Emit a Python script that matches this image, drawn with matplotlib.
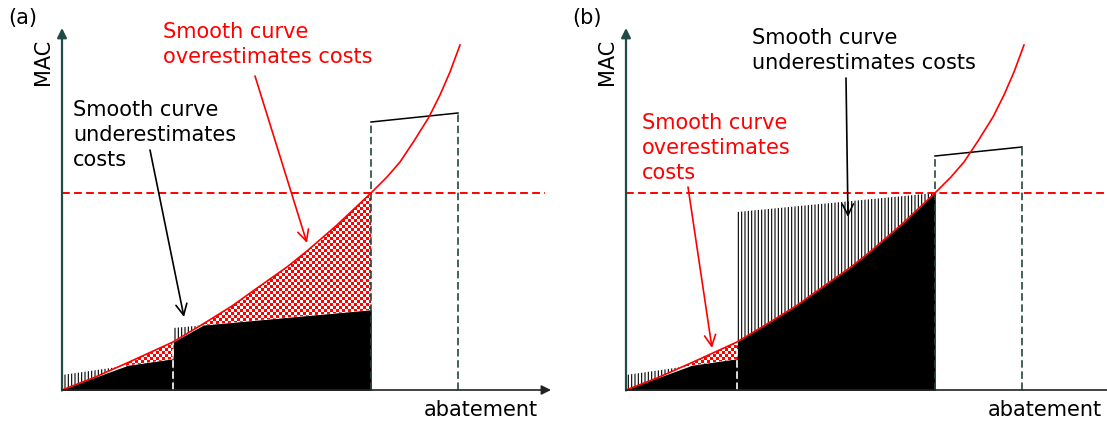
import numpy as np
import matplotlib.pyplot as plt
from matplotlib.colors import ListedColormap
from matplotlib.path import Path

plt.rcParams['font.family'] = ['DejaVu Sans']
plt.rcParams['hatch.linewidth'] = 0.8

# smooth MAC curve (abatement, cost)
curve_x = [0, 31, 65, 111, 141, 170, 198, 225, 245, 275, 309, 325, 338, 352, 367, 378, 388, 398]
curve_y = [0, 12, 27, 48, 66, 84, 104, 123, 139, 165, 197, 213, 228, 249, 273, 295, 318, 345]

# block edges of the step MAC curve
edges = [0, 111, 309, 396]
# block tops (left, right) for panel a and panel b
tops_a = [(15, 31), (62, 80), (268, 277)]
tops_b = [(15, 31), (178, 197), (234, 243)]
price = 197

axis_col = '#1f4a46'
dash_col = '#254542'
red = '#ff0000'

fig = plt.figure(figsize=(11.07, 4.25), dpi=100)

cx = np.array(curve_x, dtype=float)
cy = np.array(curve_y, dtype=float)


def checker(ax, ext):
    w = int(ext[1] - ext[0])
    h = int(ext[3] - ext[2])
    ii, jj = np.indices((h, w))
    img = ((ii // 3 + jj // 3) % 2).astype(float)
    im = ax.imshow(img, extent=ext, cmap=ListedColormap(['white', red]),
                   interpolation='nearest', aspect='auto', zorder=1)
    return im


def panel(ax, tops, label, xext, x_arrow, price_end):
    ext = (xext[0], xext[1], -35, 390)
    red_paths = []
    for k in range(2):
        e0, e1 = edges[k], edges[k + 1]
        m = (cx >= e0) & (cx <= e1)
        xs = cx[m]
        cv = cy[m]
        bt = np.interp(xs, [e0, e1], tops[k])
        ax.fill_between(xs, 0, np.minimum(cv, bt), color='black', lw=0, zorder=2)
        ax.fill_between(xs, 0, cv, where=cv <= bt, interpolate=True, color='black', lw=0, zorder=2)
        ax.fill_between(xs, 0, bt, where=bt <= cv, interpolate=True, color='black', lw=0, zorder=2)
        ax.fill_between(xs, cv, bt, where=bt >= cv, interpolate=True, facecolor='white',
                        edgecolor='black', hatch='|||||', lw=0, zorder=2)
        pc = ax.fill_between(xs, bt, cv, where=cv >= bt, interpolate=True,
                             facecolor='none', lw=0, zorder=2)
        red_paths += list(pc.get_paths())
    im = checker(ax, ext)
    if red_paths:
        im.set_clip_path(Path.make_compound_path(*red_paths), ax.transData)

    # third block: outline only
    ax.plot([edges[2], edges[3]], tops[2], color='black', lw=1.1, zorder=4)
    ax.plot([edges[2], edges[2]], [0, tops[2][0]], color=dash_col, lw=1.2,
            dashes=(4.5, 2.2), zorder=4)
    ax.plot([edges[3], edges[3]], [0, tops[2][1]], color=dash_col, lw=1.2,
            dashes=(4.5, 2.2), zorder=4)
    ax.plot([edges[1], edges[1]], [0, np.interp(edges[1], cx, cy)], color='white', lw=1.2,
            dashes=(4.5, 2.2), zorder=4)

    # smooth curve and price line
    ax.plot(cx, cy, color=red, lw=1.2, zorder=5)
    ax.plot([0, price_end], [price, price], color=red, lw=1.4, dashes=(4, 2.2), zorder=3)

    # axes
    ax.annotate('', xy=(0, 362), xytext=(0, -0.5),
                arrowprops=dict(arrowstyle='-|>', color=axis_col, lw=1.6,
                                mutation_scale=14, shrinkA=0, shrinkB=0), zorder=6)
    if x_arrow:
        ax.annotate('', xy=(489, 0), xytext=(0, 0),
                    arrowprops=dict(arrowstyle='-|>', color='#222222', lw=1.2,
                                    mutation_scale=14, shrinkA=0, shrinkB=0), zorder=6)
    else:
        ax.plot([0, xext[1]], [0, 0], color='#222222', lw=1.2, zorder=6)

    ax.text(-19, 328, 'MAC', rotation=90, ha='center', va='center', fontsize=15)
    ax.text(419, -26, 'abatement', ha='center', va='baseline', fontsize=15)
    ax.text(-54, 382, label, ha='left', va='top', fontsize=15)

    ax.set_xlim(*xext)
    ax.set_ylim(-35, 390)
    ax.axis('off')


ax_a = fig.add_axes([0, 0, 560 / 1107, 1])
panel(ax_a, tops_a, '(a)', (-62, 498), True, 483)
ax_a.text(101, 368, 'Smooth curve\noverestimates costs', color=red, fontsize=15,
          ha='left', va='top', linespacing=1.3)
ax_a.text(11, 290, 'Smooth curve\nunderestimates\ncosts', color='black', fontsize=15,
          ha='left', va='top', linespacing=1.3)
ax_a.annotate('', xy=(122, 73), xytext=(88, 240),
              arrowprops=dict(arrowstyle='->', color='black', lw=1.2,
                              mutation_scale=20, shrinkA=0, shrinkB=0))
ax_a.annotate('', xy=(245, 147), xytext=(193, 314),
              arrowprops=dict(arrowstyle='->', color=red, lw=1.2,
                              mutation_scale=20, shrinkA=0, shrinkB=0))

ax_b = fig.add_axes([560 / 1107, 0, 547 / 1107, 1])
panel(ax_b, tops_b, '(b)', (-66, 481), False, 481)
ax_b.text(126, 362, 'Smooth curve\nunderestimates costs', color='black', fontsize=15,
          ha='left', va='top', linespacing=1.3)
ax_b.text(16, 277, 'Smooth curve\noverestimates\ncosts', color=red, fontsize=15,
          ha='left', va='top', linespacing=1.3)
ax_b.annotate('', xy=(222, 173), xytext=(220, 312),
              arrowprops=dict(arrowstyle='->', color='black', lw=1.2,
                              mutation_scale=20, shrinkA=0, shrinkB=0))
ax_b.annotate('', xy=(86, 42), xytext=(62, 203),
              arrowprops=dict(arrowstyle='->', color=red, lw=1.2,
                              mutation_scale=20, shrinkA=0, shrinkB=0))

fig.savefig('out.png', dpi=100)
